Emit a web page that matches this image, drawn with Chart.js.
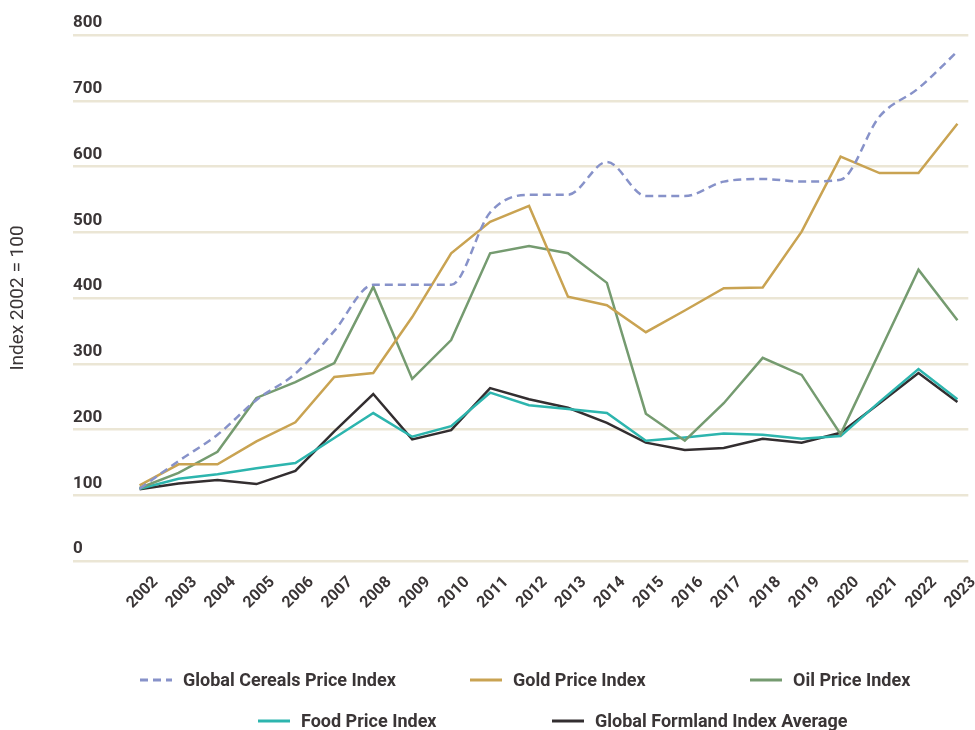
<!DOCTYPE html>
<html>
<head>
<meta charset="utf-8">
<script src="https://cdn.jsdelivr.net/npm/chart.js@4.4.1/dist/chart.umd.min.js"></script>
<style>
  html, body { margin: 0; padding: 0; background: #fff; }
  #wrap { width: 975px; height: 730px; position: relative; }
</style>
</head>
<body>
<div id="wrap"><canvas id="chart"></canvas></div>
<script>
const years = [2002, 2003, 2004, 2005, 2006, 2007, 2008, 2009, 2010, 2011, 2012,
               2013, 2014, 2015, 2016, 2017, 2018, 2019, 2020, 2021, 2022, 2023];
const cerealsIndex  = [110, 152, 192, 245, 285, 350, 420, 420, 420, 530, 557, 557, 607, 555, 555, 577, 581, 577, 580, 676, 719, 775];
const goldIndex     = [115, 147, 147, 182, 211, 280, 286, 371, 468, 516, 540, 402, 389, 348, 381, 415, 416, 501, 615, 590, 590, 665];
const oilIndex      = [111, 134, 166, 248, 272, 301, 417, 277, 336, 468, 479, 468, 423, 224, 183, 240, 309, 283, 193, 318, 443, 366];
const foodIndex     = [110, 125, 132, 141, 149, 187, 225, 189, 205, 256, 237, 231, 225, 183, 188, 194, 192, 186, 190, 242, 292, 246];
const farmlandIndex = [109, 118, 123, 117, 137, 197, 254, 185, 199, 263, 246, 233, 210, 180, 169, 172, 186, 180, 195, 240, 286, 242];
const yTicks = [0, 100, 200, 300, 400, 500, 600, 700, 800];

const textColor = "#3a3536";
const gridColor = "#ebe6d5";

// legend is laid out in two rows like the original: dataset indexes per row
const legendRows = [[0, 1, 2], [3, 4]];
const legendRowX = [[140, 470, 750], [258, 552]];
const legendRowY = [680, 721];

const rowLegend = {
  id: "rowLegend",
  afterDraw(chart) {
    const ctx = chart.ctx;
    ctx.save();
    ctx.font = "bold 18px Roboto";
    ctx.textBaseline = "middle";
    legendRows.forEach((row, r) => {
      row.forEach((di, k) => {
        const ds = chart.data.datasets[di];
        const x = legendRowX[r][k], y = legendRowY[r];
        ctx.strokeStyle = ds.borderColor;
        ctx.lineWidth = 3;
        ctx.setLineDash(ds.borderDash || []);
        ctx.beginPath();
        ctx.moveTo(x, y);
        ctx.lineTo(x + 32, y);
        ctx.stroke();
        ctx.setLineDash([]);
        ctx.fillStyle = textColor;
        ctx.fillText(ds.label, x + 43, y + 1);
      });
    });
    ctx.restore();
  }
};

const line = (label, data, color, extra) => Object.assign({
  label, data, borderColor: color, backgroundColor: color,
  borderWidth: 2.5, pointRadius: 0, tension: 0, fill: false
}, extra || {});

new Chart(document.getElementById("chart"), {
  type: "line",
  data: {
    labels: years,
    datasets: [
      line("Global Cereals Price Index", cerealsIndex, "#8792c9", { borderDash: [8, 5], cubicInterpolationMode: "monotone" }),
      line("Gold Price Index", goldIndex, "#c9a352"),
      line("Oil Price Index", oilIndex, "#759b70"),
      line("Food Price Index", foodIndex, "#2db5ae"),
      line("Global Formland Index Average", farmlandIndex, "#332e30")
    ]
  },
  options: {
    responsive: true,
    maintainAspectRatio: false,
    animation: false,
    layout: { padding: { top: 35, right: 0, bottom: 0, left: 0 } },
    plugins: { legend: { display: false }, tooltip: { enabled: false } },
    scales: {
      x: {
        type: "linear",
        min: 2000.29,
        max: 2023.28,
        grid: { display: false },
        border: { display: false },
        afterBuildTicks: s => { s.ticks = years.map(v => ({ value: v })); },
        afterFit: s => { s.height = 169; },
        ticks: {
          autoSkip: false, minRotation: 45, maxRotation: 45,
          labelOffset: 16, padding: 4, color: textColor,
          font: { family: "Roboto", size: 16, weight: "bold" },
          callback: v => String(v)
        }
      },
      y: {
        min: 0,
        max: 800,
        border: { display: false },
        grid: { color: gridColor, lineWidth: 2.5, drawTicks: false },
        afterBuildTicks: s => { s.ticks = yTicks.map(v => ({ value: v })); },
        afterFit: s => { s.width = 73; },
        ticks: {
          mirror: true, padding: 0, labelOffset: -12, color: textColor,
          font: { family: "Roboto", size: 17, weight: "bold" }
        },
        title: {
          display: true, text: "Index 2002 = 100", color: textColor,
          font: { family: "Roboto", size: 19 }, padding: { top: 7, bottom: 0 }
        }
      }
    }
  },
  plugins: [rowLegend]
});
</script>
</body>
</html>
